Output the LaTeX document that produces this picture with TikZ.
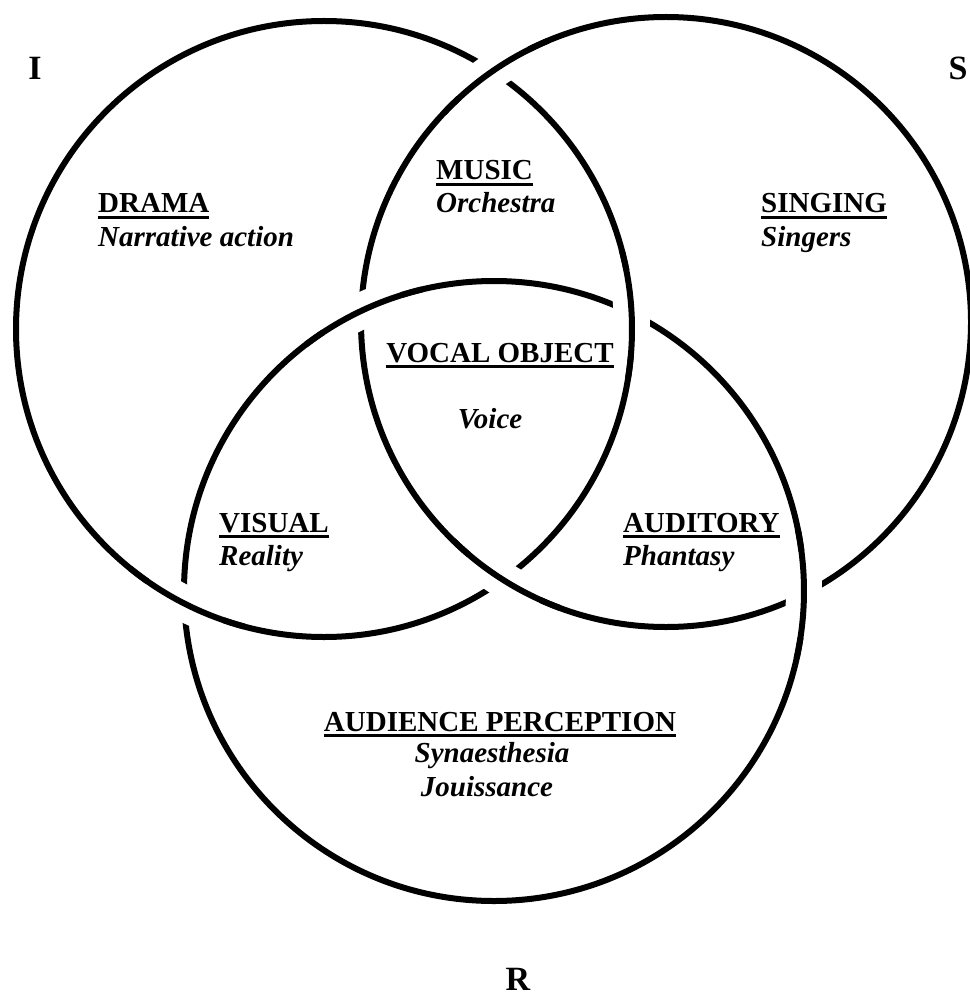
\documentclass[tikz,border=0pt]{standalone}
\usepackage{fontspec}
\setmainfont{Liberation Serif}
% heading text with a rule a little below the baseline
\newcommand\ruledtext[1]{\setbox0\hbox{#1}\rlap{\rule[-6pt]{\wd0}{2.6pt}}\box0}
% redraw an arc of an over-passing ring with a white band beneath it
% #1 centre, #2 radius, #3 angle of the crossing
\newcommand\overpass[3]{%
  \draw[gapband] (#1) ++({#3-8}:#2) arc[start angle={#3-8}, end angle={#3+8}, radius=#2];
  \draw[ring] (#1) ++({#3-12}:#2) arc[start angle={#3-12}, end angle={#3+12}, radius=#2];}
\begin{document}
\begin{tikzpicture}[x=1pt,y=-1pt,
  ring/.style={line width=6pt, black},
  gapband/.style={line width=36pt, white},
  head/.style={anchor=base west, inner sep=0pt, font=\fontsize{29}{31}\selectfont\bfseries},
  sub/.style={anchor=base west, inner sep=0pt, font=\fontsize{29}{31}\selectfont\bfseries\itshape},
  regname/.style={anchor=base, inner sep=0pt, font=\fontsize{34}{36}\selectfont\bfseries}]
\useasboundingbox (0,0) rectangle (969,1000);
\fill[white] (0,0) rectangle (969,1000);

\coordinate (cI) at (324,329);
\coordinate (cS) at (666,322);
\coordinate (cR) at (494,591);

% the three rings
\draw[ring] (cI) circle[radius=308];
\draw[ring] (cS) circle[radius=305];
\draw[ring] (cR) circle[radius=310];

% S passes over I, I over R, R over S
\overpass{cS}{305}{235.3}
\overpass{cS}{305}{122.3}
\overpass{cI}{308}{117.0}
\overpass{cI}{308}{357.1}
\overpass{cR}{310}{0.6}
\overpass{cR}{310}{244.6}

% region labels
\node[head] (drama) at (98,213) {\ruledtext{DRAMA}};
\node[sub] (dramasub) at (98,246) {Narrative action};
\node[head] (music) at (436,180) {\ruledtext{MUSIC}};
\node[sub] (musicsub) at (436,213) {Orchestra};
\node[head] (singing) at (761,213) {\ruledtext{SINGING}};
\node[sub] (singingsub) at (761,246) {Singers};
\node[head, anchor=base] (vocal) at (500,362) {\ruledtext{VOCAL OBJECT}};
\node[sub, anchor=base] (vocalsub) at (490,428) {Voice};
\node[head] (visual) at (219,532) {\ruledtext{VISUAL}};
\node[sub] (visualsub) at (219,565) {Reality};
\node[head] (auditory) at (623,532) {\ruledtext{AUDITORY}};
\node[sub] (auditorysub) at (623,565) {Phantasy};
\node[head, anchor=base] (audience) at (500,731) {\ruledtext{AUDIENCE PERCEPTION}};
\node[sub, anchor=base] (audsubA) at (492,762) {Synaesthesia};
\node[sub, anchor=base] (audsubB) at (487,796) {Jouissance};

% ring names
\node[regname] (nameI) at (35,80) {I};
\node[regname] (nameS) at (958,80) {S};
\node[regname] (nameR) at (518,990) {R};
\end{tikzpicture}
\end{document}
